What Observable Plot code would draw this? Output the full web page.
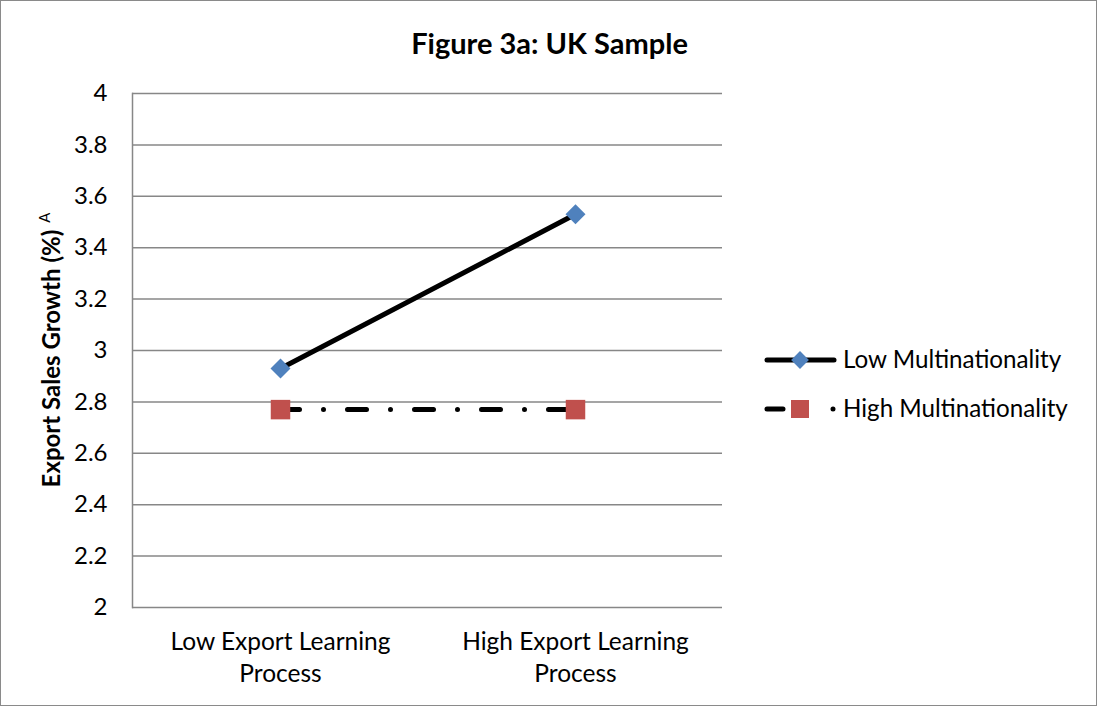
<!DOCTYPE html>
<html>
<head>
<meta charset="utf-8">
<script src="https://cdn.jsdelivr.net/npm/d3@7"></script>
<script src="https://cdn.jsdelivr.net/npm/@observablehq/plot@0.6"></script>
<style>
  body { margin: 0; background: #fff; }
  #wrap { position: relative; width: 1097px; height: 706px; overflow: hidden; font-family: Lato, "Open Sans", sans-serif; background: #fff; }
  #border { position: absolute; left: 0; top: 0; width: 1097px; height: 706px; box-sizing: border-box; border: 1.5px solid #8a8a8a; pointer-events: none; }
  #title { position: absolute; left: 0; width: 100%; top: 25px; text-align: center; font-weight: bold; font-size: 29px; line-height: 36px; color: #000; padding-left: 2px; box-sizing: border-box; }
  #chart { position: absolute; left: 0; top: 0; }
</style>
</head>
<body>
<div id="wrap">
  <div id="chart"></div>
  <div id="title">Figure 3a: UK Sample</div>
  <div id="border"></div>
</div>
<script>
const categories = ["Low Export Learning\nProcess", "High Export Learning\nProcess"];
const seriesNames = ["Low Multinationality", "High Multinationality"];
const lowMultinationality = [2.93, 3.53];
const highMultinationality = [2.77, 2.77];
const yTicks = [2, 2.2, 2.4, 2.6, 2.8, 3, 3.2, 3.4, 3.6, 3.8, 4];
const yLabel = "Export Sales Growth (%)";
const yLabelSup = "A";

const lowData = categories.map((c, i) => ({cat: c, value: lowMultinationality[i], series: seriesNames[0]}));
const highData = categories.map((c, i) => ({cat: c, value: highMultinationality[i], series: seriesNames[1]}));

const gridColor = "#878787";
const fontFam = "Lato, 'Open Sans', sans-serif";

const chart = Plot.plot({
  width: 1097,
  height: 706,
  marginLeft: 132,
  marginRight: 375,
  marginTop: 93,
  marginBottom: 99,
  style: {fontFamily: fontFam, fontSize: "24px", color: "#000", background: "transparent"},
  x: {type: "point", domain: categories, padding: 0.5},
  y: {domain: [2, 4]},
  marks: [
    Plot.ruleY(yTicks, {stroke: gridColor, strokeWidth: 1.5}),
    Plot.frame({anchor: "left", stroke: gridColor, strokeWidth: 1.5}),
    Plot.axisY({ticks: yTicks, tickSize: 0, tickPadding: 25, tickFormat: d => String(+d.toFixed(1)), label: null, fontSize: 24}),
    Plot.axisX({tickSize: 0, tickPadding: 20, label: null, fontSize: 24.5, lineHeight: 1.3}),
    Plot.line(lowData, {x: "cat", y: "value", stroke: "#000", strokeWidth: 5, strokeLinecap: "round"}),
    Plot.line(highData, {x: "cat", y: "value", stroke: "#000", strokeWidth: 5, strokeLinecap: "round", strokeDasharray: "19,24,0,24"}),
    Plot.dot(lowData, {x: "cat", y: "value", symbol: "diamond2", r: 9, fill: "#4f81bd", stroke: "none"}),
    Plot.dot(highData, {x: "cat", y: "value", symbol: "square", r: 11, fill: "#c0504d", stroke: "none"})
  ]
});
document.getElementById("chart").appendChild(chart);

const svg = d3.select(chart);
// y-axis title with superscript
const yt = svg.append("text")
  .attr("transform", "translate(60,350) rotate(-90)")
  .attr("text-anchor", "middle")
  .attr("font-family", fontFam)
  .attr("fill", "#000");
yt.append("tspan").attr("font-weight", "bold").attr("font-size", 24).text(yLabel);
yt.append("tspan").attr("font-size", 15).attr("dx", 7).attr("dy", -10).text(yLabelSup);

// legend
const legend = svg.append("g").attr("font-family", fontFam).attr("font-size", 24.2).attr("text-anchor", "start");
const legendRows = [
  {name: seriesNames[0], y: 360, dash: null, symbol: "diamond"},
  {name: seriesNames[1], y: 409, dash: "16,50,0,100", symbol: "square"}
];
legendRows.forEach(r => {
  const line = legend.append("line")
    .attr("x1", 767).attr("x2", 834).attr("y1", r.y).attr("y2", r.y)
    .attr("stroke", "#000").attr("stroke-width", 5).attr("stroke-linecap", "round");
  if (r.dash) line.attr("stroke-dasharray", r.dash);
  if (r.symbol === "diamond") {
    legend.append("path").attr("d", d3.symbol(d3.symbolDiamond2, Math.PI * 8 * 8)())
      .attr("transform", `translate(800,${r.y})`).attr("fill", "#4f81bd");
  } else {
    legend.append("rect").attr("x", 791).attr("y", r.y - 9).attr("width", 18).attr("height", 18).attr("fill", "#c0504d");
  }
  legend.append("text").attr("x", 843).attr("y", r.y).attr("dy", "0.35em").attr("text-anchor", "start").attr("fill", "#000").text(r.name);
});
</script>
</body>
</html>
